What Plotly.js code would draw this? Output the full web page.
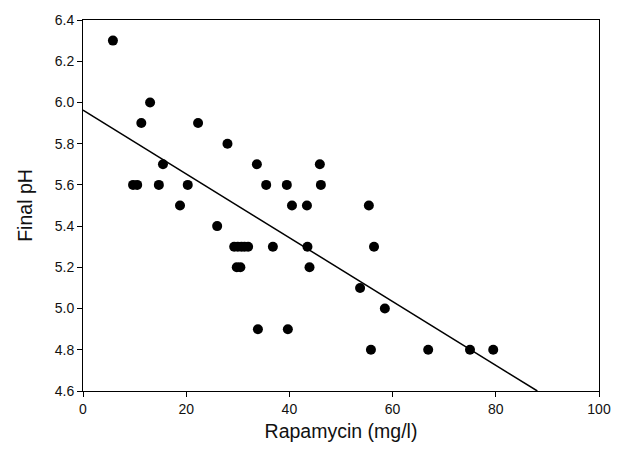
<!DOCTYPE html>
<html>
<head>
<meta charset="utf-8">
<script src="https://cdn.plot.ly/plotly-3.0.1.min.js"></script>
<style>html,body{margin:0;padding:0;background:#fff;}#chart{width:621px;height:458px;}</style>
</head>
<body>
<div id="chart"></div>
<script>
const rapamycin = [5.8, 13.0, 11.3, 22.3, 28.0, 9.7, 10.5, 14.7, 20.3, 15.5,
  18.8, 26.0, 33.7, 35.5, 39.5, 40.5, 45.9, 46.1, 43.4, 36.8,
  43.5, 43.9, 29.3, 30.0, 30.7, 31.3, 32.0, 29.8, 30.5, 33.9,
  39.7, 55.4, 56.4, 53.7, 58.5, 55.8, 66.9, 75.0, 79.5];
const finalPH = [6.3, 6.0, 5.9, 5.9, 5.8, 5.6, 5.6, 5.6, 5.6, 5.7,
  5.5, 5.4, 5.7, 5.6, 5.6, 5.5, 5.7, 5.6, 5.5, 5.3,
  5.3, 5.2, 5.3, 5.3, 5.3, 5.3, 5.3, 5.2, 5.2, 4.9,
  4.9, 5.5, 5.3, 5.1, 5.0, 4.8, 4.8, 4.8, 4.8];
const xTicks = [0, 20, 40, 60, 80, 100];
const yTicks = [4.6, 4.8, 5.0, 5.2, 5.4, 5.6, 5.8, 6.0, 6.2, 6.4];

// regression line as drawn in the reference
const fitIntercept = 5.963;
const fitSlope = -0.01548;
const xEnd = (yTicks[0] - fitIntercept) / fitSlope;
const fitX = [0, xEnd];
const fitY = fitX.map(x => fitIntercept + fitSlope * x);

const font = {family: 'Liberation Sans, Arial, sans-serif', color: '#111'};
Plotly.newPlot('chart', [
  {x: fitX, y: fitY, mode: 'lines', line: {color: '#000', width: 1.5}, hoverinfo: 'skip'},
  {x: rapamycin, y: finalPH, mode: 'markers', marker: {color: '#000', size: 10}}
], {
  width: 621, height: 458,
  margin: {l: 83, r: 22, t: 20, b: 67},
  showlegend: false,
  paper_bgcolor: '#fff', plot_bgcolor: '#fff',
  font: Object.assign({size: 14}, font),
  xaxis: {
    range: [0, 100], tickvals: xTicks, ticks: 'outside', ticklen: 5, tickwidth: 1, tickcolor: '#000',
    showline: true, linecolor: '#000', linewidth: 1, mirror: true, showgrid: false, zeroline: false,
    tickfont: Object.assign({size: 14}, font),
    title: {text: 'Rapamycin (mg/l)', font: Object.assign({size: 19.5}, font), standoff: 8}
  },
  yaxis: {
    range: [4.6, 6.4], tickvals: yTicks, tickformat: '.1f', ticks: 'outside', ticklen: 5, tickwidth: 1, tickcolor: '#000',
    showline: true, linecolor: '#000', linewidth: 1, mirror: true, showgrid: false, zeroline: false,
    tickfont: Object.assign({size: 14}, font),
    title: {text: 'Final pH', font: Object.assign({size: 19.5}, font), standoff: 16}
  }
}, {displayModeBar: false, staticPlot: true});
</script>
</body>
</html>
